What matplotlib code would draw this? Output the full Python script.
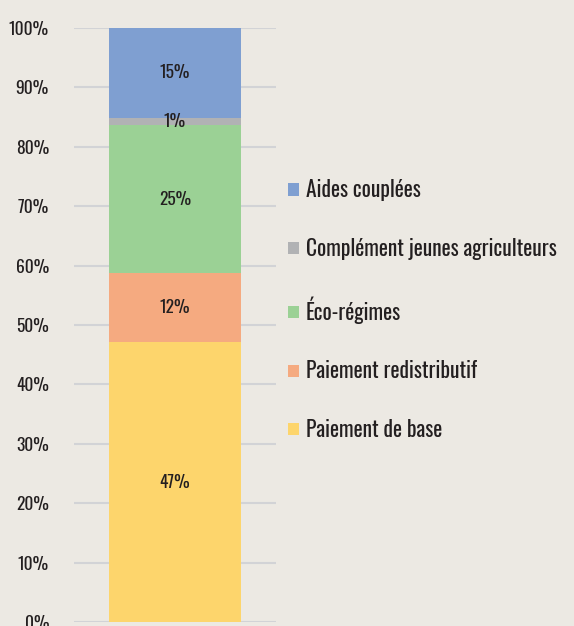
import matplotlib

matplotlib.use("Agg")
import matplotlib.pyplot as plt
from matplotlib.patches import Patch

# segments, bottom to top
categories = [
    "Paiement de base",
    "Paiement redistributif",
    "Éco-régimes",
    "Complément jeunes agriculteurs",
    "Aides couplées",
]
shares = [47.1, 11.6, 25.0, 1.2, 15.1]
share_labels = ["47%", "12%", "25%", "1%", "15%"]
colors = ["#fdd56c", "#f5aa80", "#9bd195", "#b1b2b4", "#7f9fd1"]
yticks = list(range(0, 101, 10))
ytick_labels = [f"{t}%" for t in yticks]

BG = "#ece9e3"
TEXT = "#231f20"
FONT = ["Oswald", "Roboto Condensed", "DejaVu Sans"]

plt.rcParams["font.family"] = FONT

fig = plt.figure(figsize=(5.74, 6.26), dpi=100, facecolor=BG)
ax = fig.add_axes([74 / 574, 1 - 622 / 626, 202 / 574, 594 / 626], facecolor=BG)

bottom = 0.0
for value, label, color in zip(shares, share_labels, colors):
    ax.bar(0, value, bottom=bottom, width=0.65, color=color, zorder=2)
    ax.text(0, bottom + value / 2, label, ha="center", va="center",
            fontsize=12.5, color=TEXT, zorder=3)
    bottom += value

ax.set_xlim(-0.5, 0.5)
ax.set_ylim(0, 100)
ax.set_xticks([])
ax.set_yticks(yticks)
ax.set_yticklabels(ytick_labels)
ax.tick_params(axis="y", length=0, pad=18, labelsize=12.5, labelcolor=TEXT)
ax.grid(axis="y", color="#d2d3d6", linewidth=1.5, zorder=0)
for spine in ax.spines.values():
    spine.set_visible(False)

handles = [Patch(facecolor=c, edgecolor="none") for c in colors][::-1]
fig.legend(
    handles,
    categories[::-1],
    loc="center left",
    bbox_to_anchor=(269 / 574, 1 - 310 / 626),
    frameon=False,
    handlelength=0.5,
    handleheight=0.5,
    handletextpad=0.3,
    labelspacing=1.7,
    labelcolor=TEXT,
    prop={"family": FONT, "size": 15.5},
)

fig.savefig("out.png", dpi=100, facecolor=BG)
